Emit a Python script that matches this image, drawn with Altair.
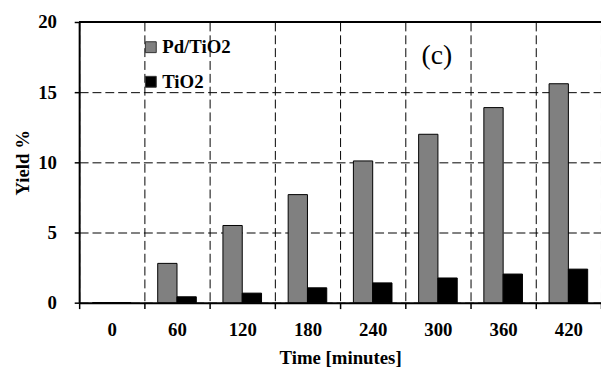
import altair as alt
import pandas as pd

times = ["0", "60", "120", "180", "240", "300", "360", "420"]
pd_tio2 = [0.0, 2.8, 5.5, 7.7, 10.1, 12.0, 13.9, 15.6]
tio2 = [0.0, 0.42, 0.68, 1.06, 1.41, 1.76, 2.04, 2.39]
series = ["Pd/TiO2", "TiO2"]

rows = []
for t, a, b in zip(times, pd_tio2, tio2):
    rows.append({"time": t, "series": series[0], "yield": a})
    rows.append({"time": t, "series": series[1], "yield": b})
df = pd.DataFrame(rows)

FONT = "Liberation Serif"
FS = 19
W, H = 528, 284

bars = alt.Chart(df).mark_bar(stroke="black", strokeWidth=1).encode(
    x=alt.X("time:N", sort=times,
            scale=alt.Scale(paddingInner=0, paddingOuter=0),
            axis=alt.Axis(title="Time [minutes]", labelAngle=0, tickBand="extent",
                          grid=True, gridDash=[9, 4], gridColor="black", gridOpacity=1,
                          gridWidth=1, domainColor="black", domainWidth=2,
                          tickColor="black", tickWidth=1.5, tickSize=6,
                          labelFont=FONT, labelFontSize=FS, labelFontWeight="bold",
                          labelColor="black", labelPadding=12,
                          titleFont=FONT, titleFontSize=FS, titleFontWeight="bold",
                          titleColor="black", titlePadding=10)),
    xOffset=alt.XOffset("series:N", sort=series,
                        scale=alt.Scale(paddingInner=0, paddingOuter=0.69)),
    y=alt.Y("yield:Q", scale=alt.Scale(domain=[0, 20], nice=False),
            axis=alt.Axis(title="Yield %", values=[0, 5, 10, 15, 20],
                          grid=True, gridDash=[9, 4], gridColor="black", gridOpacity=1,
                          gridWidth=1, domainColor="black", domainWidth=2,
                          tickColor="black", tickWidth=1.5, tickSize=5,
                          labelFont=FONT, labelFontSize=FS, labelFontWeight="bold",
                          labelColor="black", labelPadding=18,
                          titleFont=FONT, titleFontSize=FS, titleFontWeight="bold",
                          titleColor="black", titlePadding=5)),
    color=alt.Color("series:N", sort=series,
                    scale=alt.Scale(domain=series, range=["#808080", "#000000"]),
                    legend=alt.Legend(title=None, orient="none", legendX=63, legendY=16,
                                      symbolType="square", symbolSize=121,
                                      symbolStrokeColor="#333333", symbolStrokeWidth=1,
                                      rowPadding=15, labelOffset=2,
                                      labelFont=FONT, labelFontSize=FS,
                                      labelFontWeight="bold", labelColor="black")),
)

top = alt.Chart(df).mark_rule(color="black", strokeWidth=2).encode(
    x=alt.value(0), x2=alt.value(W), y=alt.value(0)
)

label = alt.Chart(pd.DataFrame({"t": ["(c)"]})).mark_text(
    font=FONT, fontSize=28, color="black"
).encode(text="t:N", x=alt.value(362), y=alt.value(34))

chart = alt.layer(bars, top, label).properties(
    width=W, height=H,
    autosize=alt.AutoSizeParams(type="none"),
    padding={"left": 72, "top": 12, "right": 0, "bottom": 70},
).configure_view(stroke=None)

chart.save("out.html", embed_options={"renderer": "svg", "actions": False})
